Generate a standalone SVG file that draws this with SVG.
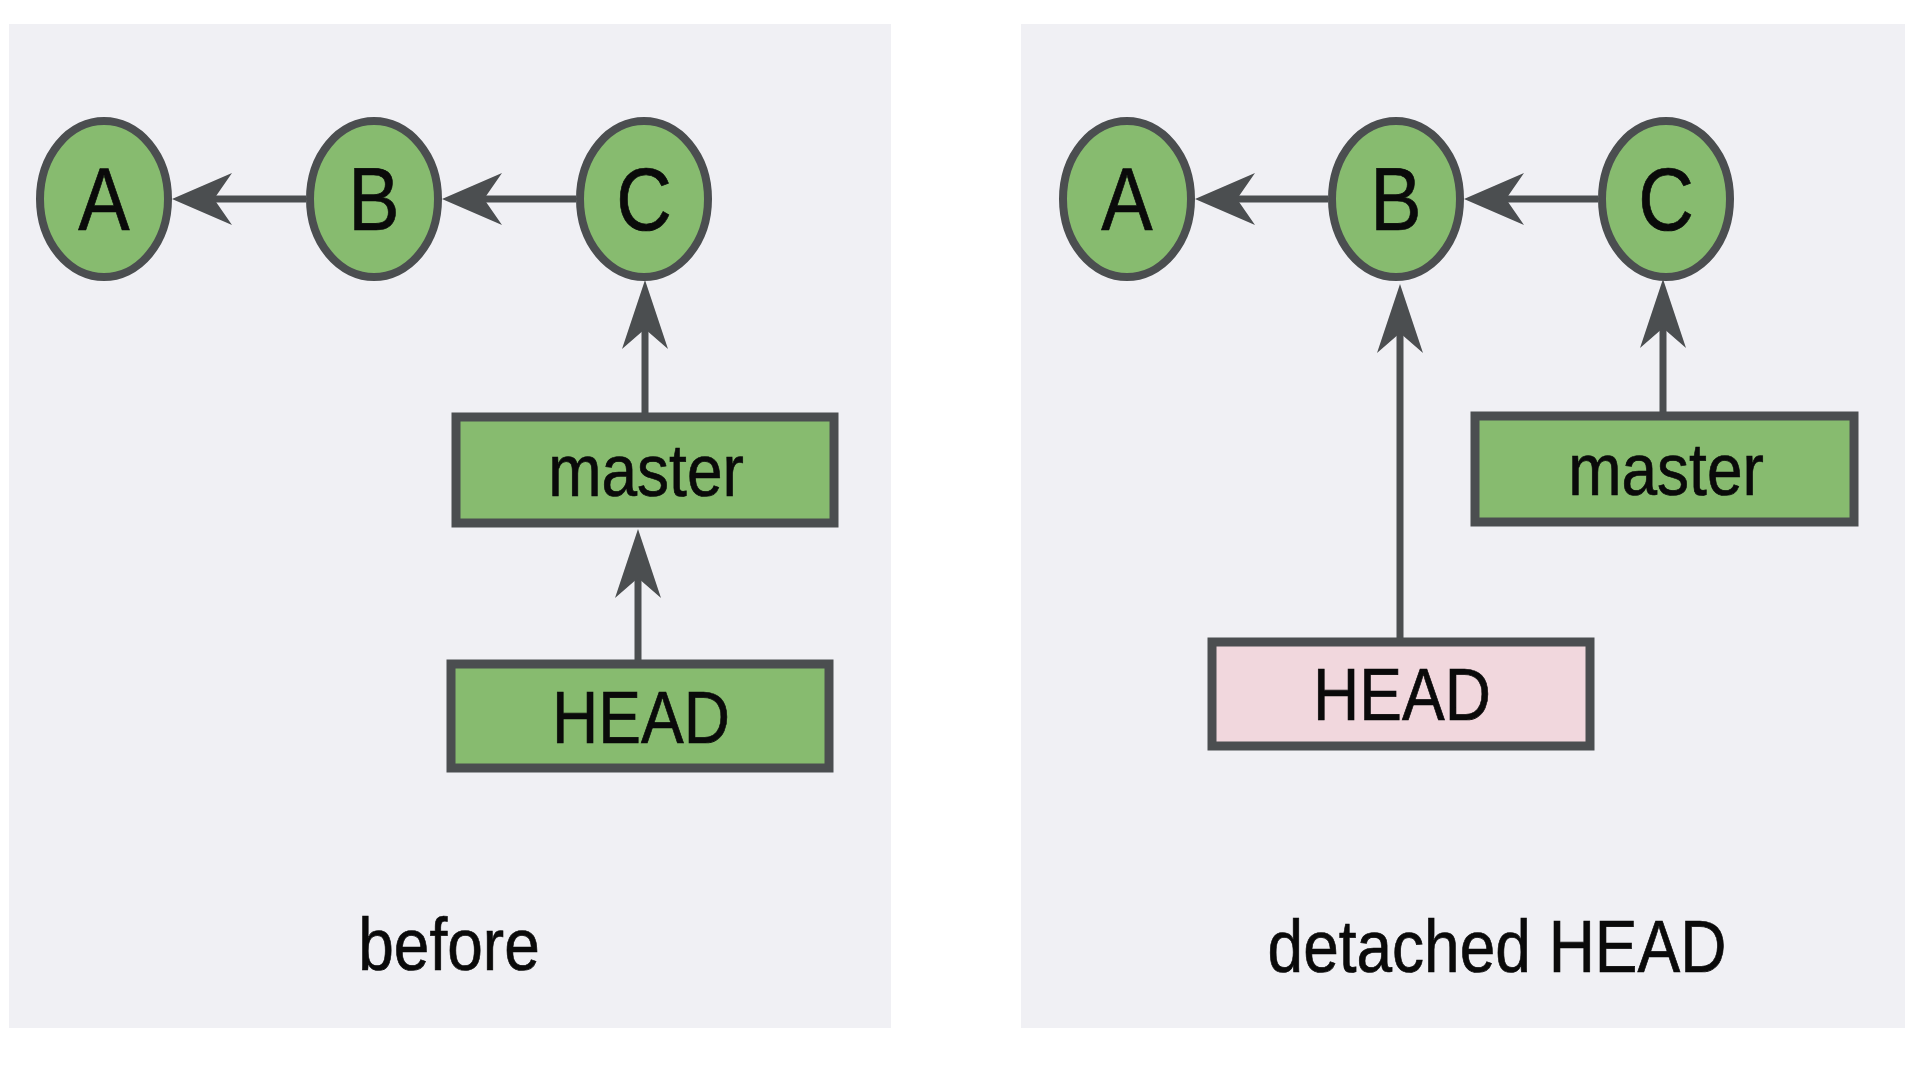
<svg xmlns="http://www.w3.org/2000/svg" width="1920" height="1080" viewBox="0 0 1920 1080">
<style>
  .panel { fill: #f0f0f4; }
  .commit { fill: #87bb6f; stroke: #4b4e50; stroke-width: 8; }
  .ref { fill: #87bb6f; stroke: #4b4e50; stroke-width: 9; }
  .detached { fill: #f1d7dd; stroke: #4b4e50; stroke-width: 9; }
  .edge { stroke: #4b4e50; stroke-width: 7; fill: none; }
  .head { fill: #4b4e50; }
  text { font-family: "Liberation Sans", Arial, Helvetica, sans-serif; fill: #0a0a0a; text-anchor: middle; stroke: #0a0a0a; stroke-width: 0.6; }
  .big { font-size: 77px; }
  .lbl { font-size: 64px; }
</style>
<defs>
  <marker id="ah" markerUnits="userSpaceOnUse" viewBox="0 -27 61 54" refX="18" refY="0" markerWidth="61" markerHeight="54" orient="auto">
    <path class="head" d="M0,-26 L60,0 L0,26 L18,0 Z"/>
  </marker>
  <marker id="av" markerUnits="userSpaceOnUse" viewBox="0 -24 70 48" refX="20" refY="0" markerWidth="70" markerHeight="48" orient="auto">
    <path class="head" d="M0,-23 L69,0 L0,23 L20,0 Z"/>
  </marker>
</defs>

<rect id="panel-before" class="panel" x="9" y="24" width="882" height="1004"/>
<rect id="panel-detached" class="panel" x="1021" y="24" width="884" height="1004"/>

<g id="connectors">
  <line class="edge" x1="306" y1="199" x2="214" y2="199" marker-end="url(#ah)"/>
  <line class="edge" x1="576" y1="199" x2="484" y2="199" marker-end="url(#ah)"/>
  <line class="edge" x1="645" y1="413" x2="645" y2="329" marker-end="url(#av)"/>
  <line class="edge" x1="638" y1="660" x2="638" y2="578" marker-end="url(#av)"/>
  <line class="edge" x1="1328" y1="199" x2="1237" y2="199" marker-end="url(#ah)"/>
  <line class="edge" x1="1598" y1="199" x2="1506" y2="199" marker-end="url(#ah)"/>
  <line class="edge" x1="1400" y1="638" x2="1400" y2="333" marker-end="url(#av)"/>
  <line class="edge" x1="1663" y1="412" x2="1663" y2="328" marker-end="url(#av)"/>
</g>

<g id="before-A">
  <ellipse class="commit" cx="104" cy="199" rx="64" ry="78"/>
  <text class="big" transform="translate(104,230) scale(1,1.16)">A</text>
</g>
<g id="before-B">
  <ellipse class="commit" cx="374" cy="199" rx="64" ry="78"/>
  <text class="big" transform="translate(374,230) scale(1,1.16)">B</text>
</g>
<g id="before-C">
  <ellipse class="commit" cx="644" cy="199" rx="64" ry="78"/>
  <text class="big" transform="translate(644,230) scale(1,1.16)">C</text>
</g>
<g id="before-master">
  <rect class="ref" x="456" y="417" width="378" height="106"/>
  <text class="lbl" transform="translate(646,496) scale(1,1.16)">master</text>
</g>
<g id="before-HEAD">
  <rect class="ref" x="451" y="664" width="378" height="104"/>
  <text class="lbl" transform="translate(641,743) scale(1,1.16)">HEAD</text>
</g>
<g id="before-label">
  <text class="lbl" transform="translate(449,970) scale(1,1.16)">before</text>
</g>

<g id="detached-A">
  <ellipse class="commit" cx="1127" cy="199" rx="64" ry="78"/>
  <text class="big" transform="translate(1127,230) scale(1,1.16)">A</text>
</g>
<g id="detached-B">
  <ellipse class="commit" cx="1396" cy="199" rx="64" ry="78"/>
  <text class="big" transform="translate(1396,230) scale(1,1.16)">B</text>
</g>
<g id="detached-C">
  <ellipse class="commit" cx="1666" cy="199" rx="64" ry="78"/>
  <text class="big" transform="translate(1666,230) scale(1,1.16)">C</text>
</g>
<g id="detached-master">
  <rect class="ref" x="1475" y="416" width="379" height="106"/>
  <text class="lbl" transform="translate(1666,495) scale(1,1.16)">master</text>
</g>
<g id="detached-HEAD">
  <rect class="detached" x="1212" y="642" width="378" height="104"/>
  <text class="lbl" transform="translate(1402,720) scale(1,1.16)">HEAD</text>
</g>
<g id="detached-label">
  <text class="lbl" transform="translate(1497,972) scale(1,1.16)">detached HEAD</text>
</g>
</svg>
